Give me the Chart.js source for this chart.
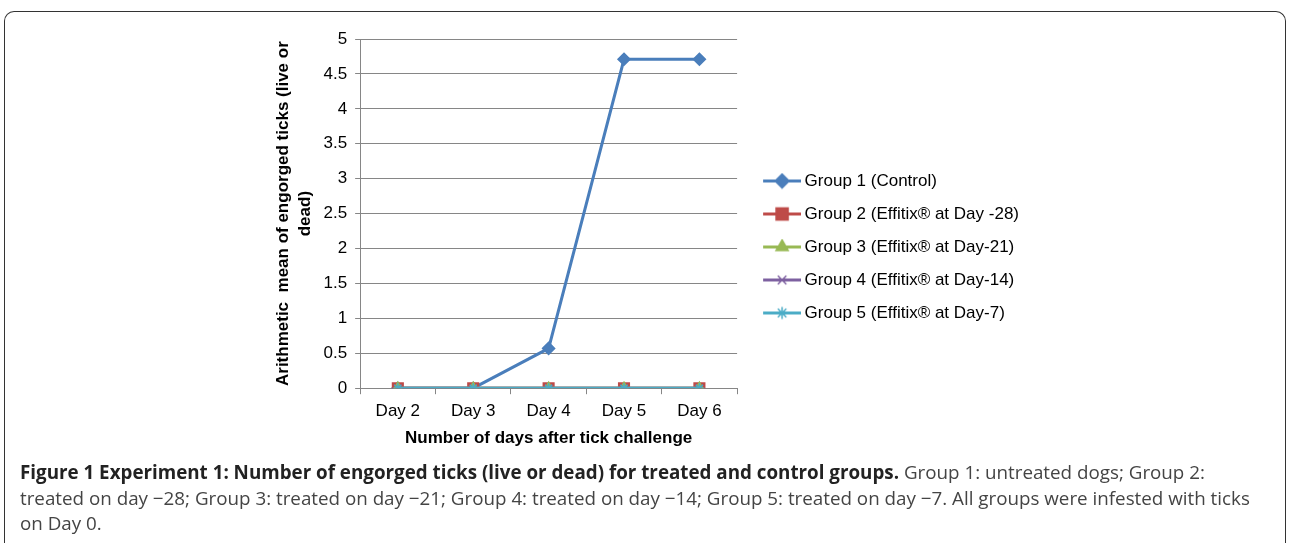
<!DOCTYPE html>
<html>
<head>
<meta charset="utf-8">
<script src="https://cdn.jsdelivr.net/npm/chart.js@4.4.1/dist/chart.umd.min.js"></script>
<style>
  html, body { margin: 0; padding: 0; background: #fff; }
  body { width: 1290px; height: 543px; position: relative; overflow: hidden; }
  #frame {
    position: absolute; left: 4px; top: 11px; width: 1282px; height: 600px;
    border: 1.5px solid #333; border-bottom: none; border-radius: 10px 10px 0 0;
    box-sizing: border-box;
  }
  #wrap { position: absolute; left: 0; top: 0; width: 1290px; height: 460px; }
  #caption {
    position: absolute; left: 20px; top: 460px; width: 1260px;
    font-family: "Open Sans", sans-serif; font-size: 18.8px; line-height: 25.5px;
    color: #444; white-space: nowrap;
  }
  #caption b { color: #222; }
</style>
</head>
<body>
<div id="frame"></div>
<div id="wrap"><canvas id="myChart"></canvas></div>
<div id="caption">
  <b>Figure 1 Experiment 1: Number of engorged ticks (live or dead) for treated and control groups.</b> Group 1: untreated dogs; Group 2:<br>
  treated on day −28; Group 3: treated on day −21; Group 4: treated on day −14; Group 5: treated on day −7. All groups were infested with ticks<br>
  on Day 0.
</div>
<script>
// data
const days = ['Day 2', 'Day 3', 'Day 4', 'Day 5', 'Day 6'];
const group1 = [0, 0, 0.57, 4.71, 4.71];
const group2 = [0, 0, 0, 0, 0];
const group3 = [0, 0, 0, 0, 0];
const group4 = [0, 0, 0, 0, 0];
const group5 = [0, 0, 0, 0, 0];
const groupNames = [
  'Group 1 (Control)',
  'Group 2 (Effitix® at Day -28)',
  'Group 3 (Effitix® at Day-21)',
  'Group 4 (Effitix® at Day-14)',
  'Group 5 (Effitix® at Day-7)'
];

const colors = ['#4a7ebb', '#be4b48', '#98b954', '#7d60a0', '#4bacc6'];
const markers = ['rectRot', 'rect', 'triangle', 'crossRot', 'star'];
const radii = [6, 7.5, 6, 5, 5];
const seriesData = [group1, group2, group3, group4, group5];

// legend icon: short line with the marker in the middle
function legendIcon(i) {
  const c = document.createElement('canvas');
  c.width = 53; c.height = 17;
  const g = c.getContext('2d');
  g.strokeStyle = colors[i];
  g.fillStyle = colors[i];
  g.lineWidth = 3;
  g.beginPath();
  g.moveTo(15, 8.5);
  g.lineTo(53, 8.5);
  g.stroke();
  g.lineWidth = 1.5;
  Chart.helpers.drawPoint(g, {pointStyle: markers[i], radius: radii[i] + 1, rotation: 0, borderWidth: 1.5}, 34, 8.5);
  return c;
}

const ctx1 = document.getElementById('myChart').getContext('2d');

new Chart(ctx1, {
  type: 'line',
  data: {
    labels: days,
    datasets: seriesData.map((d, i) => ({
      label: groupNames[i],
      data: d,
      borderColor: colors[i],
      backgroundColor: colors[i],
      borderWidth: 3,
      pointStyle: markers[i],
      pointRadius: radii[i],
      pointBorderWidth: 1.5,
      pointHoverRadius: radii[i],
      fill: false,
      tension: 0,
      order: 5 - i
    }))
  },
  options: {
    responsive: true,
    maintainAspectRatio: false,
    animation: false,
    layout: { padding: { left: 273, top: 39, right: 261, bottom: 11 } },
    plugins: {
      tooltip: { enabled: false },
      legend: {
        position: 'right',
        align: 'center',
        maxWidth: 330,
        // empty title only pushes the items down a little
        title: { display: true, text: '', padding: 0, font: { size: 5, lineHeight: 1.2 } },
        labels: {
          usePointStyle: true,
          pointStyleWidth: 43,
          padding: 16,
          color: '#000',
          font: { family: 'Arial, "Liberation Sans"', size: 17 },
          generateLabels: function (chart) {
            return chart.data.datasets.map((ds, i) => ({
              text: ds.label,
              pointStyle: legendIcon(i),
              fillStyle: colors[i],
              strokeStyle: colors[i],
              lineWidth: 0,
              hidden: false,
              datasetIndex: i,
              fontColor: '#000'
            }));
          }
        }
      }
    },
    scales: {
      x: {
        offset: true,
        grid: {
          display: true,
          offset: true,
          drawOnChartArea: false,
          drawTicks: true,
          tickLength: 6,
          color: '#868686'
        },
        border: { color: '#868686', width: 1 },
        ticks: { color: '#000', padding: 7, font: { family: 'Arial, "Liberation Sans"', size: 17 } },
        title: {
          display: true,
          text: 'Number of days after tick challenge',
          color: '#000',
          padding: { top: 0, bottom: 0 },
          font: { family: 'Arial, "Liberation Sans"', size: 17, weight: 'bold' }
        }
      },
      y: {
        min: 0,
        max: 5,
        ticks: {
          stepSize: 0.5,
          color: '#000',
          padding: 8,
          font: { family: 'Arial, "Liberation Sans"', size: 17 },
          callback: function (value) {
            return String(Number(value.toFixed(1)));
          }
        },
        grid: { color: '#868686', lineWidth: 1, tickLength: 5 },
        border: { color: '#868686', width: 1 },
        title: {
          display: true,
          text: ['Arithmetic  mean of engorged ticks (live or', 'dead)'],
          color: '#000',
          padding: { top: 0, bottom: 0 },
          font: { family: 'Arial, "Liberation Sans"', size: 17, weight: 'bold', lineHeight: 1.25 }
        }
      }
    }
  }
});
</script>
</body>
</html>
